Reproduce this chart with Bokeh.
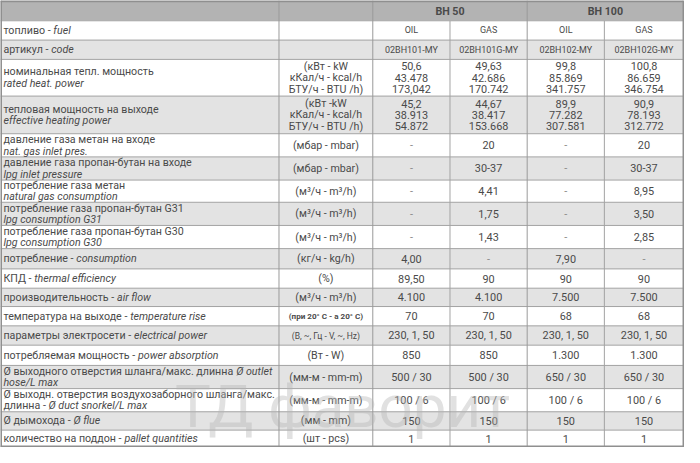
import glob, os, subprocess
from bokeh.plotting import figure
from bokeh.models import Range1d, ColumnDataSource
from bokeh.core.properties import value
from bokeh.embed import file_html
from bokeh.resources import INLINE

# ---------------- data ----------------
models = ["BH 50", "BH 100"]
fuels = ["OIL", "GAS", "OIL", "GAS"]
codes = ["02BH101-MY", "02BH101G-MY", "02BH102-MY", "02BH102G-MY"]

labels_ru = [
    "топливо -", "артикул -", "номинальная тепл. мощность", "тепловая мощность на выходе",
    "давление газа метан на входе", "давление газа пропан-бутан на входе",
    "потребление газа метан", "потребление газа пропан-бутан G31",
    "потребление газа пропан-бутан G30", "потребление -", "КПД -",
    "производительность -", "температура на выходе -", "параметры электросети -",
    "потребляемая мощность -", "Ø выходного отверстия шланга/макс. длинна",
    "Ø выходн. отверстия воздухозаборного шланга/макс.\nдлинна -",
    "Ø дымохода -", "количество на поддон -"]
labels_en = [
    "fuel", "code", "rated heat. power", "effective heating power",
    "nat. gas inlet pres.", "lpg inlet pressure", "natural gas consumption",
    "lpg consumption G31", "lpg consumption G30", "consumption", "thermal efficiency",
    "air flow", "temperature rise", "electrical power", "power absorption",
    "Ø outlet\nhose/L max", "Ø duct snorkel/L max", "Ø flue", "pallet quantities"]
units = [
    "", "", "(кВт - kW\nкКал/ч - kcal/h\nБТУ/ч - BTU /h)",
    "(кВт -kW\nкКал/ч - kcal/h\nБТУ/ч - BTU /h)", "(мбар - mbar)", "(мбар - mbar)",
    "(м³/ч - m³/h)", "(м³/ч - m³/h)", "(м³/ч - m³/h)", "(кг/ч - kg/h)", "(%)",
    "(м³/ч - m³/h)", "(при 20° C - a 20° C)", "(В, ~, Гц - V, ~, Hz)", "(Вт - W)",
    "(мм-м - mm-m)", "(мм-м - mm-m)", "(мм - mm)", "(шт - pcs)"]
bh50_oil = [fuels[0], codes[0], "50,6\n43.478\n173,042", "45,2\n38.913\n54.872",
            "-", "-", "-", "-", "-", "4,00", "89,50", "4.100", "70", "230, 1, 50",
            "850", "500 / 30", "100 / 6", "150", "1"]
bh50_gas = [fuels[1], codes[1], "49,63\n42.686\n170.742", "44,67\n38.417\n153.668",
            "20", "30-37", "4,41", "1,75", "1,43", "-", "90", "4.100", "70", "230, 1, 50",
            "850", "500 / 30", "100 / 6", "150", "1"]
bh100_oil = [fuels[2], codes[2], "99,8\n85.869\n341.757", "89,9\n77.282\n307.581",
             "-", "-", "-", "-", "-", "7,90", "90", "7.500", "68", "230, 1, 50",
             "1.300", "650 / 30", "100 / 6", "150", "1"]
bh100_gas = [fuels[3], codes[3], "100,8\n86.659\n346.754", "90,9\n78.193\n312.772",
             "20", "30-37", "8,95", "3,50", "2,85", "-", "90", "7.500", "68", "230, 1, 50",
             "1.300", "650 / 30", "100 / 6", "150", "1"]
watermark = "ТД фаворит"

# ---------------- layout ----------------
W, H = 684, 447
XR, YR = 700.0, 463.0
sx = W / XR
row_edges = [0, 21, 41, 61, 99, 138, 162, 186, 209, 233, 257, 278, 298, 317, 337, 357,
             378, 402, 426, 445, 463]
col_edges = [0, 285, 381, 460, 539, 618, 699]
label_join = [True, True, False, False, False, False, False, False, False, True, True,
              True, True, True, True, True, True, True, True]
TXT = "#4a4a4a"

_font_cache = {}
def font_path(kind):
    names = {"normal": "Roboto-Regular", "italic": "Roboto-Italic", "bold": "Roboto-Bold"}
    for root in ["/usr/share/fonts", "/usr/local/share/fonts", os.path.expanduser("~/.fonts")]:
        hits = glob.glob(os.path.join(root, "**", names[kind] + ".ttf"), recursive=True)
        if hits:
            return hits[0]
    try:
        st = {"normal": "Regular", "italic": "Italic", "bold": "Bold"}[kind]
        out = subprocess.run(["fc-match", "-f", "%{file}", "Roboto:style=" + st],
                             capture_output=True, text=True, timeout=5).stdout.strip()
        if out:
            return out
    except Exception:
        pass
    return None

def measure(text, size_px, kind="normal"):
    try:
        from PIL import ImageFont
        if kind not in _font_cache:
            _font_cache[kind] = ImageFont.truetype(font_path(kind), 100)
        return _font_cache[kind].getlength(text) * size_px / 100.0
    except Exception:
        return len(text) * 0.53 * size_px

# fit label font to reference width
ref = measure("номинальная тепл. мощность", 10)
FS = max(9.0, min(11.5, 10 * (154 * sx) / ref)) if ref > 0 else 10.3

p = figure(width=W, height=H, x_range=Range1d(0, XR), y_range=Range1d(YR, 0),
           output_backend="svg", toolbar_location=None, min_border=0,
           x_axis_location=None, y_axis_location=None)
p.grid.visible = False
p.outline_line_color = None
p.background_fill_color = "white"

# backgrounds
nrows = len(row_edges) - 1
bg = ["#b3b3b3"] + ["#e3e3e3" if i % 2 == 0 else "#ffffff" for i in range(1, nrows)]
p.quad(left=[0] * nrows, right=[col_edges[-1]] * nrows, top=row_edges[:-1],
       bottom=row_edges[1:], fill_color=bg, line_color=None)

# grid lines
hy = row_edges[1:-1]
p.segment(x0=[0] * len(hy), x1=[col_edges[-1]] * len(hy), y0=hy, y1=hy,
          line_color="#a3a3a3", line_width=1)
vx = [col_edges[1], col_edges[2], col_edges[4]]
p.segment(x0=vx, x1=vx, y0=[0] * 3, y1=[YR] * 3, line_color="#9a9a9a", line_width=1)
vx2 = [col_edges[3], col_edges[5]]
p.segment(x0=vx2, x1=vx2, y0=[row_edges[1]] * 2, y1=[YR] * 2, line_color="#a3a3a3", line_width=1)
# outer border
p.segment(x0=[0, 0, 0.5, col_edges[-1]], x1=[col_edges[-1], col_edges[-1], 0.5, col_edges[-1]],
          y0=[0.8, YR - 1, 0, 0], y1=[0.8, YR - 1, YR, YR],
          line_color="#8f8f8f", line_width=2)

texts = {}
def add(kind, align, x, y, t, size, color=TXT):
    d = texts.setdefault((kind, align), dict(x=[], y=[], t=[], s=[], c=[]))
    d["x"].append(x); d["y"].append(y); d["t"].append(t)
    d["s"].append("%.2fpx" % size); d["c"].append(color)

def lines_y(cy, n, ls):
    return [cy + (i - (n - 1) / 2.0) * ls for i in range(n)]

# header
for i, m in enumerate(models):
    cx = (col_edges[2 + 2 * i] + col_edges[4 + 2 * i]) / 2.0
    add("bold", "center", cx, (row_edges[0] + row_edges[1]) / 2.0 + 0.5, m, FS)

value_cols = [bh50_oil, bh50_gas, bh100_oil, bh100_gas]
for r in range(nrows - 1):
    top, bot = row_edges[r + 1], row_edges[r + 2]
    cy = (top + bot) / 2.0
    # label column
    ru = labels_ru[r].split("\n")
    en = labels_en[r].split("\n")
    lines = [[(s, "normal")] for s in ru[:-1]]
    if label_join[r]:
        lines.append([(ru[-1] + " ", "normal"), (en[0], "italic")])
        lines += [[(s, "italic")] for s in en[1:]]
    else:
        lines.append([(ru[-1], "normal")])
        lines += [[(s, "italic")] for s in en]
    for ly, segs in zip(lines_y(cy, len(lines), 12.0), lines):
        x = 3.0
        for s, kind in segs:
            add(kind, "left", x, ly, s, FS)
            x += measure(s, FS, kind) / sx
    # units column
    uc = (col_edges[1] + col_edges[2]) / 2.0
    ul = units[r].split("\n") if units[r] else []
    usize = FS
    ukind = "normal"
    if units[r].startswith("(при"):
        usize, ukind = FS * 0.76, "bold"
    elif units[r].startswith("(В,"):
        usize = FS * 0.8
    for ly, s in zip(lines_y(cy, len(ul), 11.8), ul):
        add(ukind, "center", uc, ly, s, usize)
    # value columns
    for j, col in enumerate(value_cols):
        cx = (col_edges[2 + j] + col_edges[3 + j]) / 2.0
        vl = col[r].split("\n")
        vs = FS * 0.84 if r < 2 else FS * 1.02
        for ly, s in zip(lines_y(cy, len(vl), 11.8), vl):
            add("normal", "center", cx, ly, s, vs, "#8a8a8a" if s == "-" else TXT)

for (kind, align), d in texts.items():
    src = ColumnDataSource(d)
    p.text(x="x", y="y", text="t", source=src, text_font=value("Roboto"),
           text_font_size="s", text_color="c", text_align=align,
           text_baseline="middle", text_font_style=kind)

# watermark
p.text(x=[350], y=[421], text=[watermark], text_font=value("Roboto"),
       text_font_size=value("60px"), text_color="#b5b5b5", text_alpha=0.4,
       text_align="center", text_baseline="middle")

open("out.html", "w").write(file_html(p, INLINE))
